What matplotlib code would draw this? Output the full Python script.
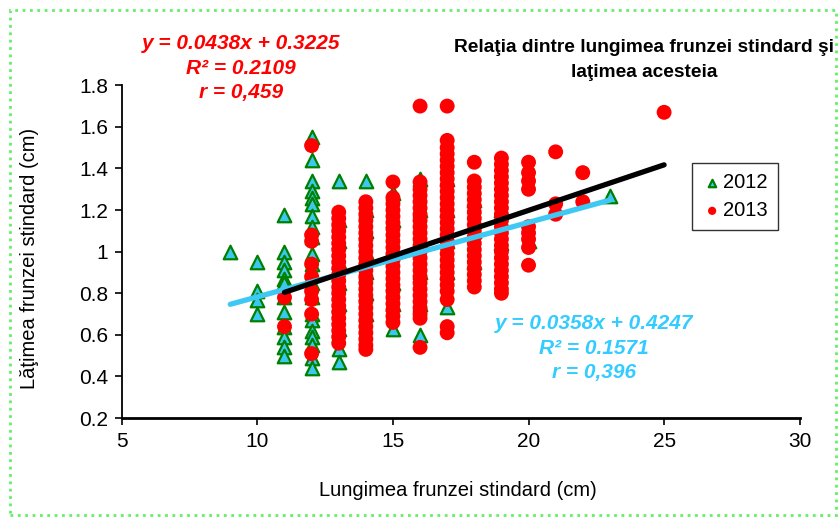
import matplotlib
matplotlib.use('Agg')
import matplotlib.pyplot as plt
from matplotlib.patches import Rectangle

plt.rcParams['font.family'] = ['Liberation Sans', 'DejaVu Sans']

# ── Data: leaf length (cm) -> list of leaf widths (cm) ─────────
len_2012 = [9, 10, 11, 12, 13, 14, 15, 16, 17, 18, 19, 20, 23]
wid_2012 = [
    [1.00],
    [0.95, 0.81, 0.77, 0.70],
    [1.175, 1.00, 0.95, 0.91, 0.87, 0.85, 0.78, 0.71, 0.64, 0.59, 0.54, 0.50],
    [1.55, 1.44, 1.34, 1.29, 1.26, 1.23, 1.17, 1.12, 1.07, 0.99, 0.94, 0.90,
     0.85, 0.78, 0.70, 0.67, 0.62, 0.59, 0.55, 0.49, 0.44],
    [1.34, 1.15, 1.05, 0.95, 0.85, 0.75, 0.63, 0.53, 0.47],
    [1.34, 1.20, 1.10, 1.00, 0.90, 0.80, 0.70],
    [1.28, 1.15, 1.00, 0.85, 0.75, 0.63],
    [1.35, 1.20, 1.05, 0.90, 0.75, 0.60],
    [1.35, 1.20, 1.05, 0.90, 0.735],
    [1.25, 1.10, 0.95],
    [1.20, 1.04],
    [1.05],
    [1.27],
]

len_2013 = [11, 12, 13, 14, 15, 16, 17, 18, 19, 20, 21, 22, 25]
wid_2013 = [
    [0.78, 0.64],
    [1.51, 1.08, 1.05, 0.94, 0.88, 0.81, 0.77, 0.70, 0.51],
    [1.19, 1.16, 1.13, 1.10, 1.07, 1.04, 1.01, 0.98, 0.95, 0.92, 0.89, 0.86,
     0.83, 0.80, 0.77, 0.74, 0.71, 0.68, 0.65, 0.62, 0.59, 0.56],
    [1.24, 1.21, 1.18, 1.15, 1.12, 1.09, 1.06, 1.03, 1.00, 0.97, 0.94, 0.91,
     0.88, 0.85, 0.82, 0.79, 0.76, 0.73, 0.70, 0.67, 0.64, 0.61, 0.58, 0.55, 0.53],
    [1.335, 1.26, 1.23, 1.20, 1.17, 1.14, 1.11, 1.08, 1.05, 1.02, 0.99, 0.96,
     0.93, 0.90, 0.87, 0.84, 0.81, 0.78, 0.75, 0.72, 0.69, 0.66],
    [1.70, 1.335, 1.30, 1.27, 1.24, 1.21, 1.18, 1.15, 1.12, 1.09, 1.06, 1.03,
     1.00, 0.97, 0.94, 0.91, 0.88, 0.85, 0.82, 0.79, 0.76, 0.73, 0.70, 0.68, 0.54],
    [1.70, 1.535, 1.50, 1.47, 1.44, 1.41, 1.38, 1.35, 1.32, 1.29, 1.26, 1.23,
     1.20, 1.17, 1.14, 1.11, 1.08, 1.05, 1.02, 0.99, 0.96, 0.93, 0.90, 0.87,
     0.84, 0.81, 0.77, 0.64, 0.61],
    [1.43, 1.34, 1.31, 1.28, 1.25, 1.22, 1.19, 1.16, 1.13, 1.10, 1.07, 1.04,
     1.01, 0.98, 0.95, 0.92, 0.89, 0.86, 0.83],
    [1.45, 1.42, 1.39, 1.36, 1.33, 1.30, 1.27, 1.24, 1.21, 1.18, 1.15, 1.12,
     1.09, 1.06, 1.03, 1.00, 0.97, 0.94, 0.91, 0.88, 0.85, 0.82, 0.80],
    [1.43, 1.38, 1.34, 1.30, 1.12, 1.09, 1.06, 1.02, 0.935],
    [1.48, 1.23, 1.18],
    [1.38, 1.24],
    [1.67],
]

# trendlines (Excel): slope, intercept, x-range
fit_2012 = (0.0358, 0.4247, 9, 23)
fit_2013 = (0.0438, 0.3225, 11, 25)

x_ticks = [5, 10, 15, 20, 25, 30]
y_ticks = [0.2, 0.4, 0.6, 0.8, 1, 1.2, 1.4, 1.6, 1.8]
y_ticklabels = ["0.2", "0.4", "0.6", "0.8", "1", "1.2", "1.4", "1.6", "1.8"]


def flatten(xs, ys):
    px, py = [], []
    for x, col in zip(xs, ys):
        for y in col:
            px.append(x)
            py.append(y)
    return px, py


fig = plt.figure(figsize=(8.4, 5.2), dpi=100, facecolor="white")
ax = fig.add_axes([0.145, 0.196, 0.807, 0.64])

x12, y12 = flatten(len_2012, wid_2012)
x13, y13 = flatten(len_2013, wid_2013)
ax.scatter(x12, y12, marker="^", s=95, c="#3cc8ee", edgecolors="#008000",
           linewidths=1.6, zorder=2, label="2012")
ax.scatter(x13, y13, marker="o", s=115, c="#ff0000", edgecolors="none",
           zorder=3, label="2013")

for (m, b, x0, x1), col in [(fit_2012, "#3ec8f4"), (fit_2013, "#000000")]:
    ax.plot([x0, x1], [m * x0 + b, m * x1 + b], color=col, lw=3.8,
            solid_capstyle="round", zorder=4)

ax.set_xlim(5, 30)
ax.set_ylim(0.2, 1.8)
ax.set_xticks(x_ticks)
ax.set_yticks(y_ticks)
ax.set_yticklabels(y_ticklabels)
ax.tick_params(axis="both", direction="out", length=5, width=1.2,
               labelsize=15, colors="black")
ax.tick_params(axis="x", pad=5)
ax.tick_params(axis="y", pad=5)
for sp in ["top", "right"]:
    ax.spines[sp].set_visible(False)
ax.spines["left"].set_linewidth(1.3)
ax.spines["bottom"].set_linewidth(2)

fig.text(458 / 840, 1 - 490 / 520, "Lungimea frunzei stindard (cm)",
         ha="center", va="center", fontsize=14.5)
fig.text(30 / 840, 1 - 258 / 520, "Lăţimea frunzei stindard (cm)",
         ha="center", va="center", fontsize=14.5, rotation=90)

fig.text(644 / 840, 1 - 60 / 520,
         "Relaţia dintre lungimea frunzei stindard şi\nlaţimea acesteia",
         ha="center", va="center", fontsize=13.8, weight="bold",
         linespacing=1.55)

fig.text(241 / 840, 1 - 68 / 520,
         "y = 0.0438x + 0.3225\nR² = 0.2109\nr = 0,459",
         ha="center", va="center", fontsize=15, weight="bold",
         style="italic", color="#ff0000", linespacing=1.38)
fig.text(594 / 840, 1 - 348 / 520,
         "y = 0.0358x + 0.4247\nR² = 0.1571\nr = 0,396",
         ha="center", va="center", fontsize=15, weight="bold",
         style="italic", color="#33ccff", linespacing=1.38)

leg = ax.legend(loc="upper left", bbox_to_anchor=(692 / 840, 1 - 163 / 520),
                bbox_transform=fig.transFigure, fontsize=14.5, frameon=True,
                fancybox=False, markerscale=0.55, handletextpad=0.05,
                handlelength=1.0, borderpad=0.5, labelspacing=0.45,
                borderaxespad=0)
leg.get_frame().set_edgecolor("black")
leg.get_frame().set_linewidth(1)

# dotted green chart-area border
fig.patches.append(Rectangle((10 / 840, 5 / 520), 826 / 840, 505 / 520,
                             transform=fig.transFigure, fill=False,
                             edgecolor="#66ee66", linestyle=":", lw=2))

fig.savefig("out.png", dpi=100, facecolor="white")
